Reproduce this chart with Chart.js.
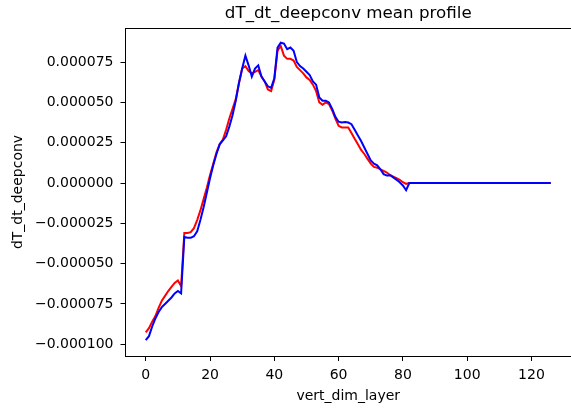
<!DOCTYPE html>
<html>
<head>
<meta charset="utf-8">
<script src="https://cdn.jsdelivr.net/npm/chart.js@4/dist/chart.umd.min.js"></script>
<style>
  html, body { margin:0; padding:0; background:#fff; overflow:hidden; }
  #wrap { position:absolute; left:0; top:0; width:571px; height:410px; overflow:hidden; }
</style>
</head>
<body>
<div id="wrap"><canvas id="profileChart" width="571" height="410"></canvas></div>
<script>
const titleText = 'dT_dt_deepconv mean profile';
const xLabel = 'vert_dim_layer';
const yLabel = 'dT_dt_deepconv';

const xTicks = [0, 20, 40, 60, 80, 100, 120];
const yTicks = [-0.0001, -0.000075, -0.00005, -0.000025, 0, 0.000025, 0.00005, 0.000075];

// layer index 0..126
const layers = Array.from({length: 127}, (_, i) => i);

// red line
const redVals = [
  -9.27e-5, -9.00e-5, -8.60e-5, -8.25e-5, -7.75e-5, -7.30e-5, -7.00e-5, -6.70e-5, -6.45e-5, -6.20e-5,
  -6.05e-5, -6.40e-5, -3.10e-5, -3.10e-5, -3.05e-5, -2.80e-5, -2.30e-5, -1.70e-5, -1.00e-5, -0.30e-5,
  0.50e-5, 1.20e-5, 1.90e-5, 2.40e-5, 2.70e-5, 3.30e-5, 4.00e-5, 4.60e-5, 5.20e-5, 6.20e-5,
  7.10e-5, 7.25e-5, 6.95e-5, 6.80e-5, 6.90e-5, 7.00e-5, 6.60e-5, 6.30e-5, 5.80e-5, 5.70e-5,
  6.40e-5, 8.20e-5, 8.50e-5, 7.90e-5, 7.70e-5, 7.70e-5, 7.60e-5, 7.20e-5, 7.00e-5, 6.80e-5,
  6.55e-5, 6.40e-5, 6.10e-5, 5.70e-5, 5.00e-5, 4.85e-5, 5.00e-5, 4.90e-5, 4.50e-5, 4.00e-5,
  3.55e-5, 3.45e-5, 3.45e-5, 3.45e-5, 3.10e-5, 2.75e-5, 2.40e-5, 2.05e-5, 1.80e-5, 1.50e-5,
  1.20e-5, 1.00e-5, 0.95e-5, 0.85e-5, 0.75e-5, 0.65e-5, 0.50e-5, 0.40e-5, 0.30e-5, 0.20e-5,
  0.05e-5, -0.05e-5, 0, 0, 0, 0, 0, 0, 0, 0,
  0, 0, 0, 0, 0, 0, 0, 0, 0, 0,
  0, 0, 0, 0, 0, 0, 0, 0, 0, 0,
  0, 0, 0, 0, 0, 0, 0, 0, 0, 0,
  0, 0, 0, 0, 0, 0, 0
];

// blue line
const blueVals = [
  -9.75e-5, -9.50e-5, -8.90e-5, -8.40e-5, -8.00e-5, -7.70e-5, -7.50e-5, -7.30e-5, -7.10e-5, -6.85e-5,
  -6.70e-5, -6.85e-5, -3.35e-5, -3.40e-5, -3.40e-5, -3.30e-5, -3.00e-5, -2.30e-5, -1.50e-5, -0.60e-5,
  0.30e-5, 1.10e-5, 1.80e-5, 2.40e-5, 2.65e-5, 2.90e-5, 3.50e-5, 4.20e-5, 5.10e-5, 6.20e-5,
  7.10e-5, 7.90e-5, 7.30e-5, 6.60e-5, 7.10e-5, 7.30e-5, 6.60e-5, 6.30e-5, 6.00e-5, 5.90e-5,
  6.50e-5, 8.40e-5, 8.70e-5, 8.65e-5, 8.30e-5, 8.40e-5, 8.20e-5, 7.50e-5, 7.25e-5, 7.10e-5,
  6.90e-5, 6.70e-5, 6.30e-5, 6.10e-5, 5.30e-5, 5.10e-5, 5.10e-5, 5.00e-5, 4.60e-5, 4.10e-5,
  3.80e-5, 3.75e-5, 3.78e-5, 3.75e-5, 3.65e-5, 3.30e-5, 2.95e-5, 2.60e-5, 2.20e-5, 1.80e-5,
  1.40e-5, 1.20e-5, 1.10e-5, 0.85e-5, 0.55e-5, 0.46e-5, 0.48e-5, 0.35e-5, 0.20e-5, 0.05e-5,
  -0.15e-5, -0.45e-5, 0, 0, 0, 0, 0, 0, 0, 0,
  0, 0, 0, 0, 0, 0, 0, 0, 0, 0,
  0, 0, 0, 0, 0, 0, 0, 0, 0, 0,
  0, 0, 0, 0, 0, 0, 0, 0, 0, 0,
  0, 0, 0, 0, 0, 0, 0
];

const FONT = "'DejaVu Sans', sans-serif";

// top spine; the right one sits past the window edge in the reference
const topSpine = {
  id: 'topSpine',
  afterDraw(chart) {
    const {ctx, chartArea: a} = chart;
    const y = Math.round(a.top) + 0.5;
    ctx.save();
    ctx.strokeStyle = '#000';
    ctx.lineWidth = 1;
    ctx.beginPath();
    ctx.moveTo(a.left, y);
    ctx.lineTo(chart.width, y);
    ctx.stroke();
    ctx.restore();
  }
};

const fmtY = v => (v < 0 ? '\u2212' : '') + Math.abs(v).toFixed(6);

new Chart(document.getElementById('profileChart'), {
  type: 'line',
  data: {
    datasets: [
      { label: 'red', data: redVals.map((v, i) => ({x: layers[i], y: v})),
        borderColor: '#ff0000', borderWidth: 2, pointRadius: 0, tension: 0, order: 1 },
      { label: 'blue', data: blueVals.map((v, i) => ({x: layers[i], y: v})),
        borderColor: '#0000ff', borderWidth: 2, pointRadius: 0, tension: 0, order: 0 }
    ]
  },
  options: {
    responsive: false,
    animation: false,
    // negative right padding: the plot box runs past the 571px window, as in the reference
    layout: { padding: { left: 0, right: -4.7, top: 0, bottom: 0 } },
    plugins: {
      legend: { display: false },
      tooltip: { enabled: false },
      title: {
        display: true, text: titleText, fullSize: false,
        color: '#000', font: { family: FONT, size: 16.7, weight: 'normal' },
        padding: { top: 4, bottom: 3.96 }
      }
    },
    scales: {
      x: {
        type: 'linear', min: -6.3, max: 132.3,
        afterBuildTicks: s => { s.ticks = xTicks.map(v => ({value: v})); },
        afterFit: s => { s.height = 54; },
        grid: { display: true, drawOnChartArea: false, drawTicks: true, tickLength: 5, tickColor: '#000', tickWidth: 1 },
        border: { display: true, color: '#000', width: 1 },
        ticks: { color: '#000', font: { family: FONT, size: 14 }, padding: 6, maxRotation: 0 },
        title: { display: true, text: xLabel, color: '#000', font: { family: FONT, size: 14 }, padding: { top: 0, bottom: 5 } }
      },
      y: {
        type: 'linear', min: -1.073e-4, max: 9.615e-5,
        afterBuildTicks: s => { s.ticks = yTicks.map(v => ({value: v})); },
        afterFit: s => { s.width = 125.5; },
        grid: { display: true, drawOnChartArea: false, drawTicks: true, tickLength: 5, tickColor: '#000', tickWidth: 1 },
        border: { display: true, color: '#000', width: 1 },
        ticks: { color: '#000', font: { family: FONT, size: 14 }, padding: 7, callback: v => fmtY(v) },
        title: { display: true, text: yLabel, color: '#000', font: { family: FONT, size: 14 }, padding: { top: 10, bottom: 0 } }
      }
    }
  },
  plugins: [topSpine]
});
</script>
</body>
</html>
